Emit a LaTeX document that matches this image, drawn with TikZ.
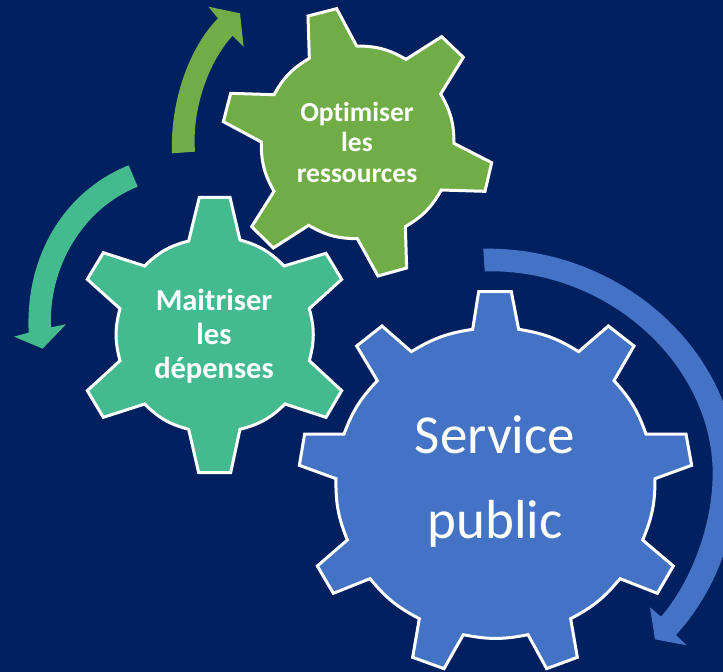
\documentclass[tikz,border=0pt]{standalone}
\usepackage{fontspec}
\setmainfont[Ligatures=NoCommon]{Carlito}
\definecolor{navybg}{HTML}{002060}
\definecolor{gearblue}{HTML}{4472C4}
\definecolor{gearolive}{HTML}{70AD47}
\definecolor{gearteal}{HTML}{44BB8E}
\tikzset
{
  gear/.style     = {draw=white, line width=3pt, line join=miter},
  gearlabel/.style = {text=white, align=center}
}

\begin{document}
\begin{tikzpicture}[x=1pt,y=-1pt]
  \fill [navybg] (0,0) rectangle (723,672);
  \useasboundingbox (0,0) rectangle (723,672);
  \clip (0,0) rectangle (723,672);
  % blue gear and arrow
  \begin{scope}[shift={(290,240)},x=0.33333pt,y=-0.33333pt]
    \fill [gearblue] (584,94) .. controls (960,85) and (1268,380) .. (1268,700)
      .. controls (1268,860) and (1200,1030) .. (1113,1130) -- (1080,1102) -- (1095,1198)
      -- (1190,1216) -- (1158,1185) .. controls (1280,1050) and (1340,880) .. (1340,700)
      .. controls (1340,340) and (1000,20) .. (580,26) -- cycle;
    \path [gear, fill=gearblue] (548,268) -- (566,155) -- (664,155) -- (686,268)
      to[bend left=11.5] (866,335) -- (955,258) -- (1032,318) -- (972,422)
      to[bend left=11.5] (1068,582) -- (1188,582) -- (1205,676) -- (1095,716)
      to[bend left=11.5] (1058,900) -- (1150,978) -- (1102,1060) -- (990,1016)
      to[bend left=11.5] (842,1136) -- (862,1252) -- (770,1286) -- (714,1184)
      to[bend left=11.5] (520,1184) -- (462,1286) -- (368,1252) -- (388,1136)
      to[bend left=11.5] (240,1016) -- (130,1060) -- (82,978) -- (172,900)
      to[bend left=11.5] (138,716) -- (28,676) -- (44,582) -- (162,582)
      to[bend left=11.5] (262,422) -- (200,318) -- (276,258) -- (364,335)
      to[bend left=11.5] cycle;
  \end{scope}
  % teal gear and arrow
  \begin{scope}[shift={(0,180)},x=0.33333pt,y=-0.33333pt]
    \path [gear, fill=gearteal] (566,183) -- (598,52) -- (690,52) -- (720,180)
      to[bend left=15] (852,258) -- (978,220) -- (1025,298) -- (928,386)
      to[bend left=15] (928,542) -- (1025,632) -- (978,712) -- (855,672)
      to[bend left=15] (720,748) -- (692,878) -- (596,878) -- (566,748)
      to[bend left=15] (434,672) -- (310,712) -- (262,632) -- (360,542)
      to[bend left=15] (360,386) -- (262,298) -- (310,218) -- (434,258)
      to[bend left=15] cycle;
  \end{scope}
  \begin{scope}[x=0.33333pt,y=-0.33333pt]
    \fill [gearteal] (386,496) .. controls (200,570) and (75,760) .. (86,998) -- (42,1010)
      -- (128,1046) -- (198,973) -- (153,982) .. controls (145,800) and (250,625) .. (413,560) -- cycle;
    \fill [gearolive] (516,460) .. controls (510,300) and (570,140) .. (654,55) -- (625,20)
      -- (720,40) -- (731,140) -- (698,107) .. controls (630,180) and (575,320) .. (585,455) -- cycle;
  \end{scope}
  % olive gear
  \begin{scope}[shift={(200,0)},x=0.33333pt,y=-0.33333pt]
    \path [gear, fill=gearolive] (328,175) -- (324,48) -- (410,26) -- (470,138)
      to[bend left=15] (618,178) -- (725,110) -- (790,172) -- (722,282)
      to[bend left=15] (762,430) -- (875,488) -- (855,574) -- (724,570)
      to[bend left=15] (616,680) -- (620,804) -- (534,828) -- (472,716)
      to[bend left=15] (326,676) -- (220,744) -- (155,680) -- (222,574)
      to[bend left=15] (184,426) -- (70,365) -- (92,280) -- (222,284)
      to[bend left=15] cycle;
  \end{scope}
  \node [gearlabel, font=\bfseries\fontsize{27.5}{30.5}\selectfont] (optimiser) at (357,142) {Optimiser\\les\\ressources};
  \node [gearlabel, font=\bfseries\fontsize{30.5}{34}\selectfont] (maitriser) at (214,336) {Maitriser\\les\\dépenses};
  \node [gearlabel, font=\fontsize{55}{85}\selectfont] (service) at (495,482) {Service\\public};
\end{tikzpicture}
\end{document}
